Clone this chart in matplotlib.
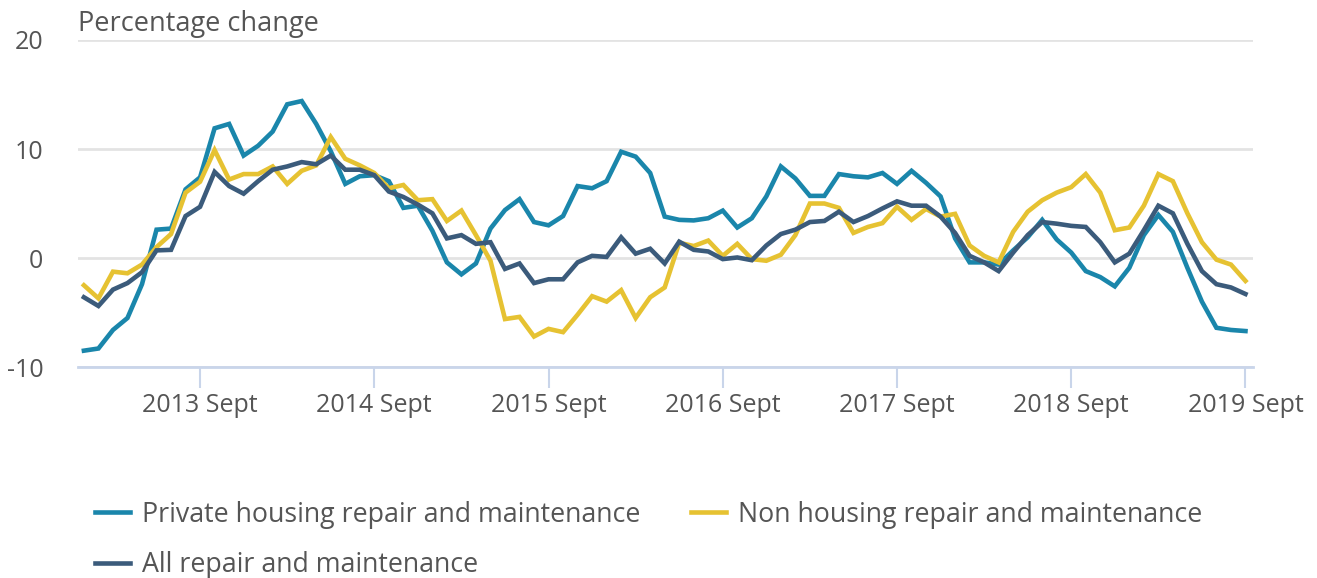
import matplotlib
matplotlib.use("Agg")
import matplotlib.pyplot as plt
import numpy as np

plt.rcParams["font.family"] = ["Open Sans", "DejaVu Sans"]

# monthly, Jan 2013 .. Sept 2019
private = [-8.5, -8.3, -6.6, -5.5, -2.4, 2.6, 2.7, 6.3, 7.4, 11.9, 12.3, 9.4, 10.3, 11.6,
           14.1, 14.4, 12.3, 9.8, 6.8, 7.5, 7.6, 7.05, 4.6, 4.8, 2.5, -0.4, -1.5, -0.5, 2.7,
           4.4, 5.4, 3.3, 3.0, 3.85, 6.6, 6.4, 7.05, 9.75, 9.3, 7.8, 3.8, 3.5, 3.45, 3.65,
           4.35, 2.8, 3.65, 5.65, 8.4, 7.3, 5.7, 5.7, 7.7, 7.5, 7.4, 7.8, 6.8, 8.0, 6.9,
           5.65, 1.8, -0.4, -0.4, -0.6, 0.7, 1.9, 3.5, 1.7, 0.5, -1.2, -1.75, -2.6, -0.9,
           2.1, 3.95, 2.4, -0.9, -4.0, -6.4, -6.6, -6.7]
non_housing = [-2.5, -3.7, -1.25, -1.4, -0.6, 1.0, 2.2, 6.0, 7.0, 9.9, 7.2, 7.7, 7.7, 8.4,
               6.8, 8.0, 8.5, 11.1, 9.1, 8.5, 7.8, 6.4, 6.7, 5.3, 5.4, 3.4, 4.35, 2.1, -0.25,
               -5.6, -5.4, -7.2, -6.5, -6.8, -5.2, -3.5, -4.0, -2.95, -5.5, -3.6, -2.7, 1.4,
               1.1, 1.6, 0.2, 1.3, -0.1, -0.25, 0.3, 2.1, 5.0, 5.0, 4.6, 2.3, 2.85, 3.2, 4.7,
               3.5, 4.5, 3.8, 4.05, 1.15, 0.2, -0.4, 2.4, 4.25, 5.3, 6.0, 6.5, 7.7, 6.0, 2.55,
               2.8, 4.8, 7.7, 7.05, 4.1, 1.45, -0.15, -0.6, -2.1]
all_rm = [-3.6, -4.4, -2.9, -2.3, -1.3, 0.7, 0.75, 3.85, 4.7, 7.9, 6.6, 5.9, 7.05, 8.1, 8.4,
          8.8, 8.6, 9.4, 8.1, 8.1, 7.6, 6.1, 5.6, 4.9, 4.1, 1.8, 2.1, 1.3, 1.45, -1.0, -0.5,
          -2.3, -1.95, -1.95, -0.4, 0.2, 0.1, 1.9, 0.4, 0.85, -0.5, 1.5, 0.75, 0.6, -0.1,
          0.05, -0.2, 1.15, 2.2, 2.6, 3.3, 3.4, 4.25, 3.3, 3.85, 4.55, 5.2, 4.8, 4.8, 3.8,
          2.3, 0.2, -0.4, -1.2, 0.5, 2.1, 3.3, 3.15, 2.95, 2.85, 1.45, -0.4, 0.4, 2.55, 4.8,
          4.1, 1.3, -1.2, -2.4, -2.7, -3.3]
tick_pos = [8, 20, 32, 44, 56, 68, 80]
tick_labels = ["2013 Sept", "2014 Sept", "2015 Sept", "2016 Sept",
               "2017 Sept", "2018 Sept", "2019 Sept"]

x = np.arange(len(private))

fig = plt.figure(figsize=(13.17, 5.78), dpi=100)
ax = fig.add_axes([0.0592, 0.365, 0.892, 0.5658])

l1, = ax.plot(x, private, color="#1a86ab", lw=3.3, label="Private housing repair and maintenance",
              solid_joinstyle="miter", zorder=3)
l2, = ax.plot(x, non_housing, color="#e6c232", lw=3.3, label="Non housing repair and maintenance",
              solid_joinstyle="miter", zorder=3)
l3, = ax.plot(x, all_rm, color="#3b5b7b", lw=3.3, label="All repair and maintenance",
              solid_joinstyle="miter", zorder=3)

ax.set_xlim(-0.41, 80.5)
ax.set_ylim(-10, 20)
ax.set_yticks([-10, 0, 10, 20])
ax.set_yticklabels(["-10", "0", "10", "20"])
ax.set_xticks(tick_pos)
ax.set_xticklabels(tick_labels)

for s in ["top", "right", "left"]:
    ax.spines[s].set_visible(False)
ax.spines["bottom"].set_color("#c9d5ea")
ax.spines["bottom"].set_linewidth(2)
ax.grid(axis="y", color="#e3e3e3", lw=2)
ax.set_axisbelow(True)
ax.tick_params(axis="y", length=0, pad=25, labelsize=18, labelcolor="#555555")
ax.tick_params(axis="x", length=15, width=1.5, color="#c9d5ea", pad=4,
               labelsize=18, labelcolor="#555555")

ax.text(0.0, 1.05, "Percentage change", transform=ax.transAxes, fontsize=19.5,
        color="#555555", ha="left", va="center")

# order so that matplotlib's column filling gives the reference's row layout
fig.legend(handles=[l1, l3, l2], loc="upper left", bbox_to_anchor=(0.072, 0.134), ncol=2,
           frameon=False, fontsize=19.3, labelcolor="#555555", handlelength=1.3,
           handletextpad=0.45, columnspacing=1.9, borderaxespad=0, borderpad=0,
           labelspacing=0.85)

fig.savefig("out.png", dpi=100)
